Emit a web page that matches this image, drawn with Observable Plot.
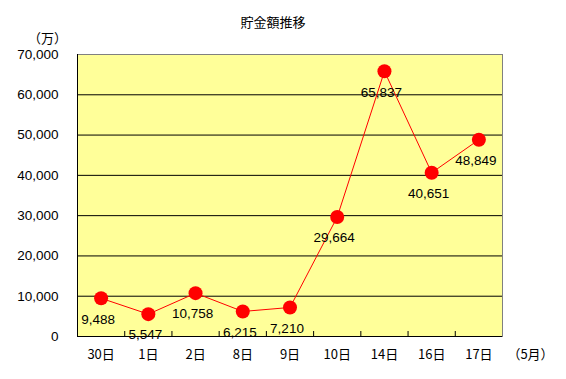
<!DOCTYPE html>
<html><head><meta charset="utf-8">
<script src="https://cdn.jsdelivr.net/npm/d3@7"></script>
<script src="https://cdn.jsdelivr.net/npm/@observablehq/plot@0.6"></script>
<style>
body{margin:0;background:#fff;}
svg{font-family:"Liberation Sans","Noto Sans CJK JP",sans-serif;}
</style>
</head><body><div id="chart"></div>
<script>
const days = ["30日","1日","2日","8日","9日","10日","14日","16日","17日"];
const values = [9488,5547,10758,6215,7210,29664,65837,40651,48849];
const yTicks = [0,10000,20000,30000,40000,50000,60000,70000];
const title = "貯金額推移";
const yUnit = "（万）";
const xUnit = "（5月）";

const data = days.map((d,i)=>({day:d, i:i+0.5, v:values[i]}));
const fmt = d3.format(",");
const jp = "'Noto Sans CJK JP',sans-serif";

const chart = Plot.plot({
  width:566, height:379,
  marginLeft:77, marginRight:64, marginTop:54, marginBottom:43,
  style:{background:"#fff", fontSize:"13px", color:"#000"},
  x:{domain:[0,days.length], axis:null},
  y:{domain:[0,70000], axis:null},
  marks:[
    Plot.frame({fill:"#FFFF99", stroke:"#808080"}),
    Plot.gridY(yTicks.slice(1,-1), {stroke:"#000", strokeOpacity:1}),
    Plot.ruleY([0], {stroke:"#000"}),
    Plot.ruleX([0], {stroke:"#000"}),
    Plot.axisY(yTicks, {tickSize:0, tickPadding:19, tickFormat:fmt, fontSize:13.5, fill:"#000", label:null}),
    Plot.axisX(d3.range(1,days.length), {tickSize:-5, tickFormat:()=>"", label:null, stroke:"#000"}),
    Plot.text(data, {x:"i", text:"day", frameAnchor:"bottom", dy:22, fontSize:13, fill:"#000", fontFamily:jp}),
    Plot.line(data, {x:"i", y:"v", stroke:"#FF0000", strokeWidth:1}),
    Plot.dot(data, {x:"i", y:"v", r:7, fill:"#FF0000", stroke:"none"}),
    Plot.text(data, {x:"i", y:"v", text:d=>fmt(d.v), dx:-3, dy:21, fontSize:13.5, fill:"#000"}),
    Plot.text([title], {frameAnchor:"top", dx:-17, dy:-37, fontSize:13, fill:"#000", fontFamily:jp}),
    Plot.text([yUnit], {frameAnchor:"top-left", dx:-30, dy:-21, textAnchor:"middle", fontSize:13, fill:"#000", fontFamily:jp}),
    Plot.text([xUnit], {frameAnchor:"bottom-right", dx:28, dy:22, textAnchor:"middle", fontSize:13, fill:"#000", fontFamily:jp})
  ]
});
document.getElementById("chart").appendChild(chart);
</script></body></html>
